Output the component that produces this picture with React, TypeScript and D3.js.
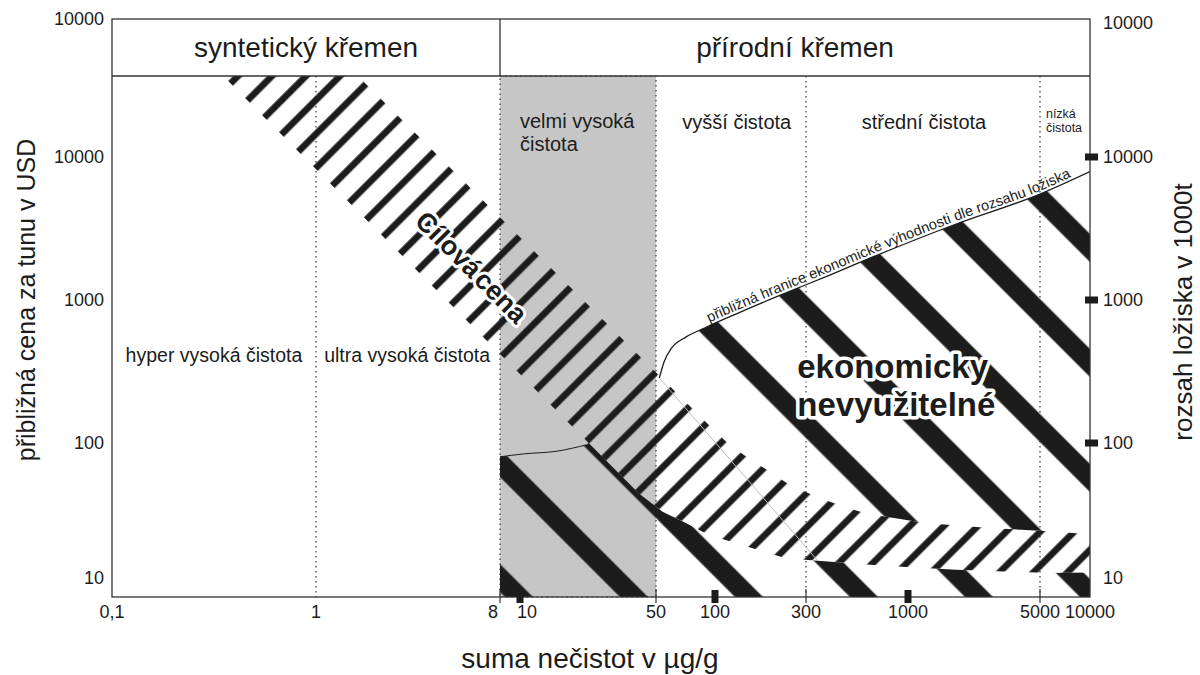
import * as d3 from "d3";

// axes: impurities in µg/g (bottom), price USD/t (left), deposit size 1000 t (right)
const xTicks = [0.1, 1, 8, 10, 50, 100, 300, 1000, 5000, 10000];
const xTickLabels = ["0,1", "1", "8", "10", "50", "100", "300", "1000", "5000", "10000"];
const xTickMarks = [10, 100, 1000];
const yTicks = [10, 100, 1000, 10000];
const yTickLabels = ["10", "100", "1000", "10000"];
const rightTickMarks = [100, 1000, 10000];
const topLabel = "10000";

const groupNames = ["syntetický křemen", "přírodní křemen"];
const groupBounds = [0.1, 8, 10000];
const purityBounds = [1, 300, 5000];
const veryHighPurity = [8, 50];

const zoneNames = [
  ["hyper vysoká čistota"],
  ["ultra vysoká čistota"],
  ["velmi vysoká", "čistota"],
  ["vyšší čistota"],
  ["střední čistota"],
  ["nízká", "čistota"],
];
const zoneX = [0.316, 2.8, 10, 130, 1215, 5430];
const zoneY = [370, 370, 15950, 15700, 15700, 18740];

// target price band (Cílová cena): upper and lower edge
const bandUpper: [number, number][] = [
  [1.6, 37000], [95, 130], [118, 98], [150, 77], [195, 61], [245, 49],
  [340, 40], [460, 34], [610, 30], [1230, 25.5], [2700, 23.5], [6400, 22], [10000, 21],
];
const bandLower: [number, number][] = [
  [0.35, 37000], [41, 42], [54, 31], [71, 25.5], [92, 21], [123, 18.5], [172, 16],
  [235, 14], [345, 13.4], [750, 12.3], [1800, 11.5], [5700, 10.9], [10000, 11],
];
// approximate boundary of economic viability by deposit size
const econBoundary: [number, number][] = [
  [52, 285], [55, 370], [60, 460], [71, 550], [89, 640], [135, 820], [220, 1080],
  [400, 1500], [660, 2000], [1800, 3400], [5000, 5500], [10000, 7900],
];
// same boundary inside the grey column
const greyBoundary: [number, number][] = [[8, 79], [10.4, 83], [15.5, 87], [22, 97]];

const FONT = "'Liberation Sans', Arial, Helvetica, sans-serif";
const INK = "#1c1c1c";

export default function App() {
  const left = 112, right = 1090, headTop = 19, top = 76, bottom = 597;

  const x = d3.scaleLog().domain(xTicks).range([112, 316, 500, 520, 656, 715, 806, 908, 1040, 1090]);
  const y = d3.scaleLog().domain(yTicks).range([578, 443, 300, 157]);

  const line = d3.line<[number, number]>().x((d) => x(d[0])).y((d) => y(d[1]));
  const curve = d3
    .line<[number, number]>()
    .x((d) => x(d[0]))
    .y((d) => y(d[1]))
    .curve(d3.curveMonotoneX);

  const bandD = line([...bandUpper, ...bandLower.slice().reverse()]) + "Z";
  const econD = curve(econBoundary) as string;
  const greyD = curve(greyBoundary) as string;
  const uneconD = `${greyD}L${econD.slice(1)}L${x(10000)},${bottom + 5}L${x(8)},${bottom + 5}Z`;

  const zoneSize = [19.5, 19.5, 20, 20, 20, 12.5];
  const zoneAnchor = ["middle", "middle", "start", "middle", "middle", "start"];

  return (
    <svg
      width={1200}
      height={675}
      style={{ position: "absolute", left: 0, top: 0, background: "#fff" }}
      fontFamily={FONT}
    >
      <defs>
        <pattern id="thin" patternUnits="userSpaceOnUse" width={24.04} height={20} patternTransform="rotate(45)">
          <rect x={2.31} y={0} width={6.7} height={20} fill={INK} />
        </pattern>
        <pattern id="thick" patternUnits="userSpaceOnUse" width={81.32} height={20} patternTransform="rotate(-45)">
          <rect x={16.26} y={0} width={19.8} height={20} fill={INK} />
        </pattern>
        <clipPath id="plotClip">
          <rect x={left} y={top} width={right - left} height={bottom - top} />
        </clipPath>
        <clipPath id="bandClip">
          <path d={bandD} />
        </clipPath>
        <mask id="uneconMask" maskUnits="userSpaceOnUse" x={0} y={0} width={1200} height={675}>
          <path d={uneconD} fill="#fff" />
          <path d={bandD} fill="#000" />
        </mask>
      </defs>

      {/* very high purity column */}
      <rect
        x={x(veryHighPurity[0])}
        y={top}
        width={x(veryHighPurity[1]) - x(veryHighPurity[0])}
        height={bottom - top}
        fill="#c6c6c6"
        stroke="#333"
        strokeWidth={1.2}
        strokeDasharray="1.5 3.5"
      />
      {purityBounds.map((v) => (
        <line key={v} x1={x(v)} x2={x(v)} y1={top} y2={bottom} stroke="#333" strokeWidth={1.2} strokeDasharray="1.5 3.5" />
      ))}

      <g clipPath="url(#plotClip)">
        <rect x={left} y={top} width={right - left} height={bottom - top} fill="url(#thick)" mask="url(#uneconMask)" />
        <rect x={left} y={top} width={right - left} height={bottom - top} fill="url(#thin)" clipPath="url(#bandClip)" />
        <line
          x1={x(econBoundary[0][0])}
          y1={y(econBoundary[0][1])}
          x2={x(bandLower[8][0])}
          y2={y(bandLower[8][1])}
          stroke="#bdbdbd"
          strokeWidth={1}
        />
        <path id="econCurve" d={econD} fill="none" stroke={INK} strokeWidth={1.3} />
        <path d={greyD} fill="none" stroke={INK} strokeWidth={1} />
      </g>

      <text fontSize={14.6} fill={INK} dy={-3}>
        <textPath href="#econCurve" startOffset={78}>
          přibližná hranice ekonomické výhodnosti dle rozsahu ložiska
        </textPath>
      </text>

      {/* zone labels */}
      {zoneNames.map((lines, i) => (
        <text
          key={i}
          x={x(zoneX[i])}
          y={y(zoneY[i])}
          fontSize={zoneSize[i]}
          textAnchor={zoneAnchor[i]}
          fill={INK}
        >
          {lines.map((t, j) => (
            <tspan key={j} x={x(zoneX[i])} dy={j === 0 ? 0 : "1.15em"}>
              {t}
            </tspan>
          ))}
        </text>
      ))}

      <text
        transform={`translate(${x(5.8)},${y(1700)}) rotate(45)`}
        textAnchor="middle"
        dy="0.35em"
        fontSize={27}
        fontWeight="bold"
        fill={INK}
        stroke="#fff"
        strokeWidth={6}
        strokeLinejoin="round"
        paintOrder="stroke"
        wordSpacing={-5}
      >
        Cílová cena
      </text>

      <text
        x={x(270)}
        y={y(285)}
        fontSize={33}
        fontWeight="bold"
        fill={INK}
        stroke="#fff"
        strokeWidth={7}
        strokeLinejoin="round"
        paintOrder="stroke"
      >
        <tspan x={x(270)}>ekonomicky</tspan>
        <tspan x={x(270)} dy="1.16em">nevyužitelné</tspan>
      </text>

      {/* header */}
      <line x1={left} x2={right} y1={top} y2={top} stroke="#333" strokeWidth={1.3} />
      <line x1={x(groupBounds[1])} x2={x(groupBounds[1])} y1={headTop} y2={top} stroke="#333" strokeWidth={1.3} />
      {groupNames.map((g, i) => (
        <text
          key={g}
          x={(x(groupBounds[i]) + x(groupBounds[i + 1])) / 2}
          y={(headTop + top) / 2}
          dy="0.35em"
          textAnchor="middle"
          fontSize={28}
          fill={INK}
        >
          {g}
        </text>
      ))}
      <rect x={left} y={headTop} width={right - left} height={bottom - headTop} fill="none" stroke="#333" strokeWidth={1.3} />

      {/* x axis */}
      {xTickMarks.map((v) => (
        <rect key={v} x={x(v) - 3.5} y={bottom - 7} width={7} height={13} fill={INK} />
      ))}
      {[8, 50, 300, 5000].map((v) => (
        <line key={v} x1={x(v)} x2={x(v)} y1={bottom - 8} y2={bottom + 6} stroke="#333" strokeWidth={1.2} />
      ))}
      {xTicks.map((v, i) => (
        <text
          key={v}
          x={v === 8 ? x(v) - 2 : v === 10 ? x(v) - 3 : x(v)}
          y={bottom + 21}
          fontSize={18}
          textAnchor={v === 8 ? "end" : v === 10 ? "start" : "middle"}
          fill={INK}
        >
          {xTickLabels[i]}
        </text>
      ))}

      {/* y axes */}
      {yTicks.map((v, i) => (
        <text key={v} x={104} y={y(v)} dy="0.35em" fontSize={18} textAnchor="end" fill={INK}>
          {yTickLabels[i]}
        </text>
      ))}
      <text x={104} y={headTop} dy="0.35em" fontSize={18} textAnchor="end" fill={INK}>
        {topLabel}
      </text>
      {rightTickMarks.map((v) => (
        <rect key={v} x={right - 5} y={y(v) - 3.5} width={13} height={7} fill={INK} />
      ))}
      {yTicks.map((v, i) => (
        <text key={v} x={1103} y={y(v)} dy="0.35em" fontSize={18} textAnchor="start" fill={INK}>
          {yTickLabels[i]}
        </text>
      ))}
      <text x={1103} y={headTop + 4} dy="0.35em" fontSize={18} textAnchor="start" fill={INK}>
        {topLabel}
      </text>

      {/* axis titles */}
      <text transform="translate(26,300) rotate(-90)" dy="0.35em" textAnchor="middle" fontSize={25} fill={INK}>
        přibližná cena za tunu v USD
      </text>
      <text transform="translate(1183,312) rotate(-90)" dy="0.35em" textAnchor="middle" fontSize={26} fill={INK}>
        rozsah ložiska v 1000t
      </text>
      <text x={590} y={668} textAnchor="middle" fontSize={28} fill={INK}>
        suma nečistot v µg/g
      </text>
    </svg>
  );
}
